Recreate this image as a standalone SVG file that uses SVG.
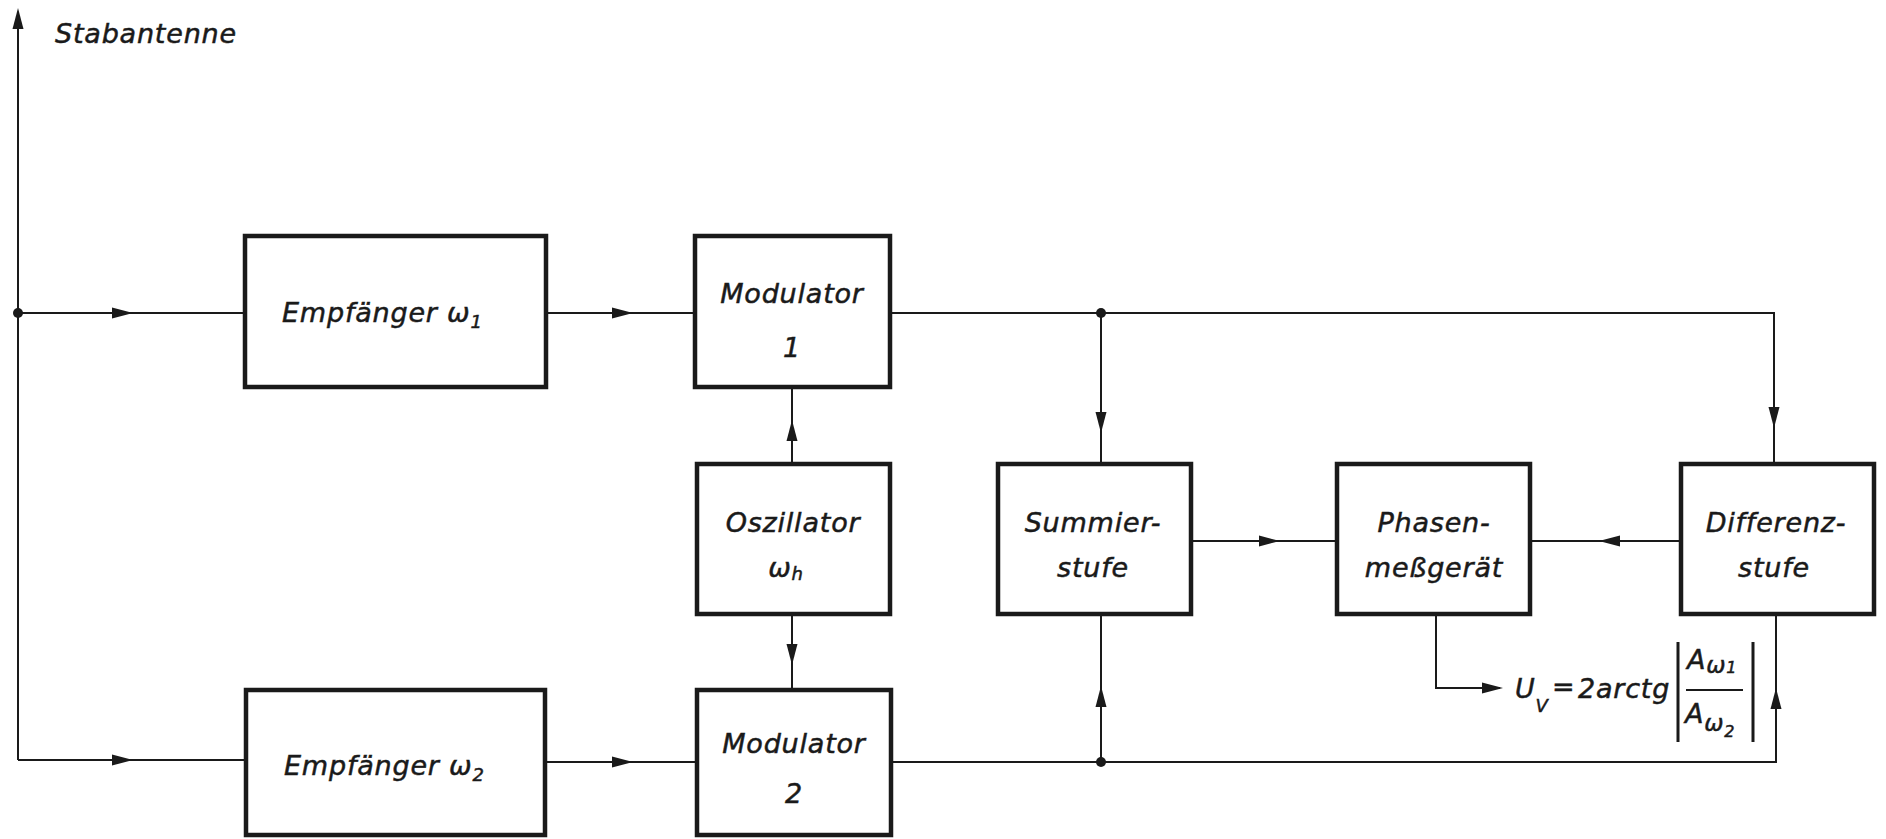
<svg xmlns="http://www.w3.org/2000/svg" xmlns:xlink="http://www.w3.org/1999/xlink" width="1886" height="839" viewBox="0 0 1886 839">
<style>
.box{fill:#fff;stroke:#1a1a1a;stroke-width:4.5}
.ln{fill:none;stroke:#1a1a1a;stroke-width:2}
.bar{fill:none;stroke:#1a1a1a;stroke-width:3}
.t{font-family:"DejaVu Sans",sans-serif;font-style:oblique;font-size:27px;letter-spacing:0.8px;fill:#1a1a1a;stroke:#1a1a1a;stroke-width:0.5}
.m{text-anchor:middle}
.sub{font-size:18px}
.dot{fill:#1a1a1a}
.ah{fill:#1a1a1a}
</style>
<defs>
<path id="ah" d="M0,0 L-21,-5.5 L-21,5.5 Z"/>
</defs>
<rect width="1886" height="839" fill="#fff"/>

<g id="connectors">
<path class="ln" d="M18,760 V20"/>
<path class="ln" d="M18,313 H245"/>
<path class="ln" d="M18,760 H246"/>
<path class="ln" d="M546,313 H695"/>
<path class="ln" d="M545,762 H697"/>
<path class="ln" d="M890,313 H1774 V464"/>
<path class="ln" d="M1101,313 V464"/>
<path class="ln" d="M792,464 V387"/>
<path class="ln" d="M792,614 V690"/>
<path class="ln" d="M891,762 H1776 V614"/>
<path class="ln" d="M1101,762 V614"/>
<path class="ln" d="M1191,541 H1337"/>
<path class="ln" d="M1681,541 H1530"/>
<path class="ln" d="M1436,614 V688 H1500"/>
<circle class="dot" cx="18" cy="313" r="5"/>
<circle class="dot" cx="1101" cy="313" r="5"/>
<circle class="dot" cx="1101" cy="762" r="5"/>
<use xlink:href="#ah" class="ah" transform="translate(18,8) rotate(-90)"/>
<use xlink:href="#ah" class="ah" transform="translate(133,313)"/>
<use xlink:href="#ah" class="ah" transform="translate(133,760)"/>
<use xlink:href="#ah" class="ah" transform="translate(633,313)"/>
<use xlink:href="#ah" class="ah" transform="translate(633,762)"/>
<use xlink:href="#ah" class="ah" transform="translate(1101,433) rotate(90)"/>
<use xlink:href="#ah" class="ah" transform="translate(1774,428) rotate(90)"/>
<use xlink:href="#ah" class="ah" transform="translate(792,420) rotate(-90)"/>
<use xlink:href="#ah" class="ah" transform="translate(792,665) rotate(90)"/>
<use xlink:href="#ah" class="ah" transform="translate(1101,686) rotate(-90)"/>
<use xlink:href="#ah" class="ah" transform="translate(1776,688) rotate(-90)"/>
<use xlink:href="#ah" class="ah" transform="translate(1280,541)"/>
<use xlink:href="#ah" class="ah" transform="translate(1599,541) rotate(180)"/>
<use xlink:href="#ah" class="ah" transform="translate(1503,688)"/>
</g>

<g id="antenna-label">
<text class="t" x="55" y="43">Stabantenne</text>
</g>

<g id="empfaenger1">
<rect class="box" x="245" y="236" width="301" height="151"/>
<text class="t" x="282" y="322">Empfänger ω<tspan class="sub" dy="6">1</tspan></text>
</g>

<g id="modulator1">
<rect class="box" x="695" y="236" width="195" height="151"/>
<text class="t m" x="792" y="303">Modulator</text>
<text class="t m" x="792" y="357">1</text>
</g>

<g id="oszillator">
<rect class="box" x="697" y="464" width="193" height="150"/>
<text class="t m" x="793" y="532">Oszillator</text>
<text class="t m" x="786" y="577">ω<tspan class="sub" dy="3">h</tspan></text>
</g>

<g id="empfaenger2">
<rect class="box" x="246" y="690" width="299" height="145"/>
<text class="t" x="284" y="775">Empfänger ω<tspan class="sub" dy="6">2</tspan></text>
</g>

<g id="modulator2">
<rect class="box" x="697" y="690" width="194" height="145"/>
<text class="t m" x="794" y="753">Modulator</text>
<text class="t m" x="794" y="803">2</text>
</g>

<g id="summierstufe">
<rect class="box" x="998" y="464" width="193" height="150"/>
<text class="t m" x="1093" y="532">Summier-</text>
<text class="t m" x="1093" y="577">stufe</text>
</g>

<g id="phasenmessgeraet">
<rect class="box" x="1337" y="464" width="193" height="150"/>
<text class="t m" x="1434" y="532">Phasen-</text>
<text class="t m" x="1434" y="577">meßgerät</text>
</g>

<g id="differenzstufe">
<rect class="box" x="1681" y="464" width="193" height="150"/>
<text class="t m" x="1776" y="532">Differenz-</text>
<text class="t m" x="1774" y="577">stufe</text>
</g>

<g id="formula">
<text class="t" x="1515" y="698">U<tspan class="sub" dy="14">V</tspan></text>
<text class="t" x="1552" y="696">=</text>
<text class="t" x="1578" y="698">2arctg</text>
<path class="bar" d="M1678,642 V742 M1753,642 V742"/>
<path class="ln" d="M1686,690 H1743"/>
<text class="t" x="1687" y="669">A<tspan style="font-size:23px" dy="4">ω</tspan><tspan style="font-size:16px" dy="0">1</tspan></text>
<text class="t" x="1685" y="723">A<tspan style="font-size:23px" dy="8">ω</tspan><tspan style="font-size:16px" dy="6">2</tspan></text>
</g>
</svg>
